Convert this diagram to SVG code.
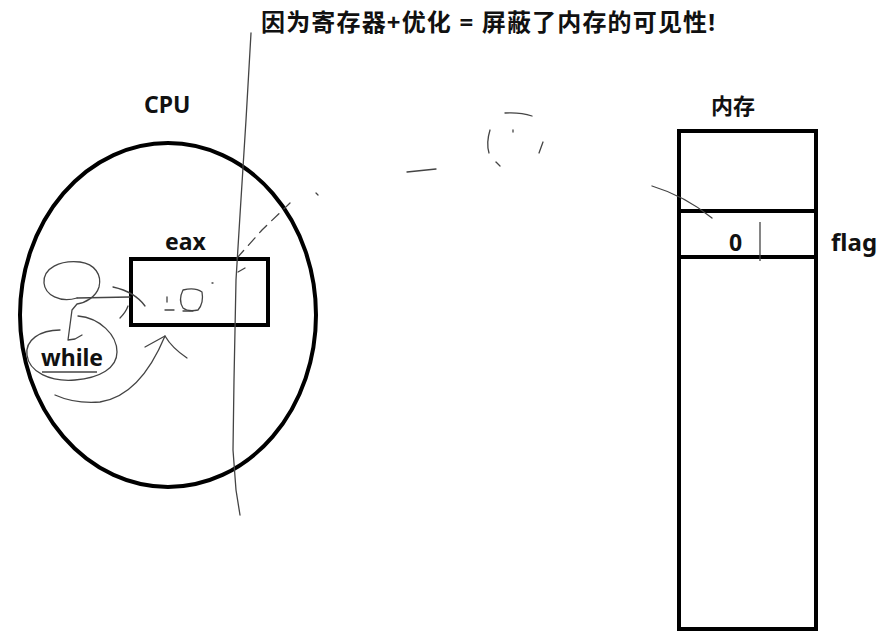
<svg xmlns="http://www.w3.org/2000/svg" width="895" height="639" viewBox="0 0 895 639">
<style>
.thick{fill:none;stroke:#000;stroke-width:4}
.sk{fill:none;stroke:#444;stroke-width:1.3;stroke-linecap:round;stroke-linejoin:round}
.lbl{font-family:"Noto Sans","Noto Sans CJK SC",sans-serif;font-weight:bold;fill:#111}
</style>
<rect width="895" height="639" fill="#fff"/>
<text class="lbl" x="261" y="31" font-size="24" textLength="454" font-family="Noto Sans CJK SC">因为寄存器+优化 = 屏蔽了内存的可见性!</text>
<g id="cpu">
<ellipse class="thick" cx="168" cy="315" rx="148" ry="172"/>
<text class="lbl" x="144" y="113" font-size="23">CPU</text>
</g>
<g id="eax">
<rect class="thick" x="131" y="259" width="137" height="66"/>
<text class="lbl" x="165" y="250" font-size="23">eax</text>
</g>
<g id="while">
<text class="lbl" x="41" y="366" font-size="23">while</text>
<line x1="42" y1="372" x2="97" y2="372" stroke="#444" stroke-width="1.3"/>
</g>
<g id="memory">
<rect class="thick" x="679" y="131" width="137" height="498"/>
<line class="thick" x1="679" y1="211" x2="816" y2="211"/>
<line class="thick" x1="679" y1="257" x2="816" y2="257"/>
<text class="lbl" x="711" y="114" font-size="22" font-family="Noto Sans CJK SC">内存</text>
</g>
<g id="flag">
<text class="lbl" x="729" y="251" font-size="23">0</text>
<line x1="760" y1="222" x2="760" y2="261" stroke="#444" stroke-width="1.3"/>
<text class="lbl" x="831" y="251" font-size="24">flag</text>
</g>
<g id="connectors">
<path class="sk" d="M251 33 L246 120 L240 215 L236 280 L234 380 L233 450 L236 490 L240 515"/>
<path class="sk" stroke-dasharray="10 7" d="M237 258 L262 230 L290 203"/>
<path class="sk" d="M316 193 L318 195"/>
<path class="sk" d="M407 172 L436 169"/>
<path class="sk" d="M505 113 Q520 112 532 116"/>
<path class="sk" d="M490 130 Q486 143 489 153"/>
<path class="sk" d="M496 162 L500 166"/>
<path class="sk" d="M543 142 L539 153"/>
<path class="sk" d="M513 130 L513 132"/>
<path class="sk" d="M652 186 Q685 196 712 218"/>
<path class="sk" d="M77 298 C60 303 45 295 44 283 C43 268 60 260 80 262 C95 264 102 275 99 287 C96 297 85 303 77 304 L72 310 L68 340 L75 339 L82 335"/>
<path class="sk" d="M77 298 L130 297"/>
<path class="sk" d="M113 287 Q135 292 145 306"/>
<path class="sk" d="M120 318 Q126 312 128 306"/>
<path class="sk" d="M60 330 C40 330 25 340 27 355 C29 372 50 382 75 380 C100 378 117 368 117 352 C117 335 100 318 78 316"/>
<path class="sk" d="M55 395 Q75 404 100 402 Q140 396 165 336"/>
<path class="sk" d="M145 347 L165 336 Q172 348 187 358"/>
<path class="sk" d="M183 290 Q195 287 202 292 Q204 303 198 310 Q188 312 183 308 Q178 300 183 290 Z"/>
<path class="sk" d="M167 297 L167 302"/>
<path class="sk" d="M165 310 L174 310"/>
<path class="sk" d="M183 311 L193 311"/>
<path class="sk" d="M212 283 L213 283"/>
<path class="sk" d="M238 272 L245 268"/>
</g>
</svg>
